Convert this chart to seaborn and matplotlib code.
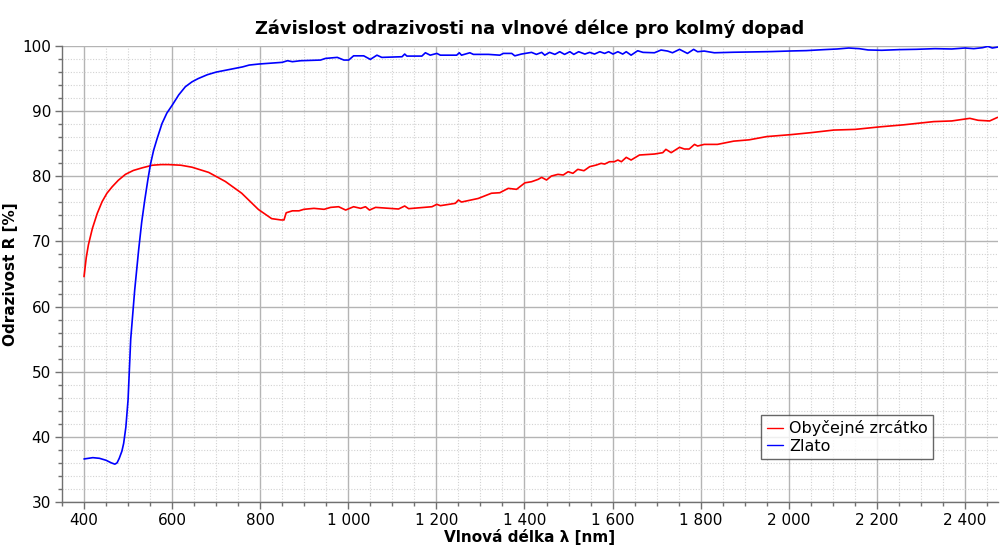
import numpy as np
import pandas as pd
import matplotlib
matplotlib.use("Agg")
import matplotlib.pyplot as plt
from matplotlib.ticker import MultipleLocator, FuncFormatter
import seaborn as sns

# ---- data ----
mirror_wl = [400, 405, 410, 419, 430, 441, 452, 464, 478, 494, 512, 532, 555, 575, 592,
             620, 645, 683, 721, 758, 796, 826, 847, 854, 859, 873, 888, 899, 922, 945,
             960, 978, 994, 1012, 1028, 1039, 1048, 1062, 1114, 1128, 1137, 1190, 1201,
             1209, 1243, 1250, 1257, 1295, 1325, 1344, 1363, 1382, 1401, 1416, 1431, 1439,
             1450, 1461, 1476, 1488, 1499, 1510, 1521, 1535, 1548, 1563, 1574, 1582, 1593,
             1604, 1612, 1620, 1631, 1642, 1661, 1695, 1714, 1721, 1733, 1752, 1763, 1774,
             1786, 1793, 1808, 1838, 1875, 1910, 1950, 2005, 2050, 2102, 2150, 2208, 2260,
             2329, 2370, 2411, 2430, 2456, 2474]
mirror_R = [64.6, 67.5, 69.5, 72.0, 74.3, 76.1, 77.4, 78.4, 79.4, 80.3, 80.9, 81.3, 81.7,
            81.8, 81.8, 81.7, 81.4, 80.6, 79.2, 77.4, 74.9, 73.5, 73.3, 73.3, 74.4, 74.7,
            74.7, 74.93, 75.08, 74.93, 75.23, 75.33, 74.82, 75.33, 75.08, 75.33, 74.82,
            75.23, 74.98, 75.44, 75.03, 75.33, 75.7, 75.49, 75.85, 76.36, 76.05, 76.6, 77.4,
            77.48, 78.15, 78.0, 79.0, 79.17, 79.53, 79.84, 79.43, 80.04, 80.3, 80.2, 80.7,
            80.46, 81.07, 80.86, 81.48, 81.73, 81.99, 81.88, 82.24, 82.24, 82.5, 82.24,
            82.91, 82.5, 83.27, 83.42, 83.63, 84.14, 83.63, 84.45, 84.19, 84.19, 84.9, 84.65,
            84.9, 84.9, 85.4, 85.6, 86.1, 86.4, 86.7, 87.1, 87.2, 87.6, 87.9, 88.4, 88.5,
            88.9, 88.6, 88.5, 89.05]

gold_wl = [400, 410, 420, 435, 450, 462, 470, 475, 480, 486, 490, 495, 500, 506, 515, 524,
           531, 538, 545, 551, 558, 566, 577, 588, 600, 615, 630, 645, 659, 680, 700, 730,
           760, 775, 797, 850, 862, 873, 892, 937, 948, 975, 990, 1001, 1012, 1035, 1050,
           1065, 1076, 1122, 1128, 1133, 1167, 1175, 1186, 1201, 1209, 1246, 1252, 1257,
           1276, 1284, 1318, 1344, 1352, 1371, 1378, 1393, 1416, 1427, 1439, 1446, 1457,
           1469, 1480, 1491, 1503, 1512, 1523, 1537, 1548, 1559, 1571, 1582, 1591, 1601,
           1612, 1623, 1631, 1642, 1657, 1669, 1695, 1710, 1725, 1736, 1752, 1770, 1784,
           1793, 1808, 1831, 1875, 1920, 1960, 2008, 2040, 2080, 2110, 2136, 2160, 2180,
           2211, 2250, 2290, 2332, 2370, 2400, 2420, 2440, 2452, 2462, 2475]
gold_R = [36.6, 36.7, 36.8, 36.7, 36.4, 36.0, 35.8, 36.0, 36.7, 37.8, 39.0, 41.5, 45.7, 55.0,
          62.5, 68.7, 73.0, 76.4, 79.5, 81.9, 84.0, 85.8, 88.1, 89.7, 90.9, 92.5, 93.75, 94.5,
          95.0, 95.6, 96.0, 96.4, 96.8, 97.08, 97.24, 97.5, 97.75, 97.6, 97.75, 97.85, 98.1,
          98.26, 97.85, 97.85, 98.5, 98.5, 97.95, 98.6, 98.26, 98.36, 98.77, 98.46, 98.46,
          98.97, 98.6, 98.87, 98.6, 98.6, 98.97, 98.6, 98.97, 98.72, 98.72, 98.6, 98.87,
          98.87, 98.5, 98.77, 99.03, 98.72, 99.03, 98.6, 99.03, 98.72, 99.13, 98.72, 99.13,
          98.72, 99.13, 98.77, 99.03, 98.77, 99.13, 98.87, 99.13, 98.77, 99.13, 98.77, 99.13,
          98.6, 99.28, 99.03, 98.97, 99.39, 99.23, 98.97, 99.49, 98.87, 99.49, 99.13, 99.23,
          98.97, 99.05, 99.1, 99.15, 99.25, 99.3, 99.45, 99.55, 99.7, 99.6, 99.4, 99.35,
          99.45, 99.5, 99.6, 99.55, 99.7, 99.6, 99.75, 99.95, 99.7, 99.85]

series_names = ["Obyčejné zrcátko", "Zlato"]
series_colors = ["#ff0000", "#0000ff"]

title = "Závislost odrazivosti na vlnové délce pro kolmý dopad"
xlabel = "Vlnová délka λ [nm]"
ylabel = "Odrazivost R [%]"

df = pd.concat([
    pd.DataFrame({"wl": mirror_wl, "R": mirror_R, "serie": series_names[0]}),
    pd.DataFrame({"wl": gold_wl, "R": gold_R, "serie": series_names[1]}),
], ignore_index=True)

# ---- plot ----
sns.set_theme(style="white")
plt.rcParams["font.family"] = ["DejaVu Sans"]
plt.rcParams["text.color"] = "black"
plt.rcParams["axes.labelcolor"] = "black"

fig = plt.figure(figsize=(10, 5.45), dpi=100)
ax = fig.add_axes([0.062, 0.079, 0.936, 0.8365])

sns.lineplot(data=df, x="wl", y="R", hue="serie", palette=dict(zip(series_names, series_colors)),
             sort=False, linewidth=1.2, ax=ax, zorder=3)

ax.set_xlim(350, 2475)
ax.set_ylim(30, 100)

ax.xaxis.set_major_locator(MultipleLocator(200))
ax.xaxis.set_minor_locator(MultipleLocator(50))
ax.yaxis.set_major_locator(MultipleLocator(10))
ax.yaxis.set_minor_locator(MultipleLocator(2))

def thousands(v, pos):
    s = f"{int(round(v)):,}".replace(",", " ")
    return s
ax.xaxis.set_major_formatter(FuncFormatter(thousands))

ax.grid(True, which="major", color="#b4b4b4", linewidth=1.0, linestyle="-", zorder=0)
ax.grid(True, which="minor", color="#d2d2d2", linewidth=0.8, linestyle=(0, (1, 1.5)), zorder=0)
ax.set_axisbelow(True)

for s in ["top", "right"]:
    ax.spines[s].set_visible(False)
for s in ["left", "bottom"]:
    ax.spines[s].set_color("#707070")
    ax.spines[s].set_linewidth(1.0)

ax.tick_params(axis="both", which="major", direction="out", length=5, width=1,
               color="#707070", labelsize=11, labelcolor="#000000", pad=3, bottom=True, left=True)
ax.tick_params(axis="both", which="minor", direction="out", length=3, width=1,
               color="#707070", bottom=True, left=True)

ax.set_title(title, fontsize=13, fontweight="bold", pad=9, color="black")
ax.set_xlabel(xlabel, fontsize=11, fontweight="bold", labelpad=1, color="black")
ax.set_ylabel(ylabel, fontsize=11, fontweight="bold", labelpad=3, color="black")

leg = ax.legend(loc="lower left", bbox_to_anchor=(0.747, 0.094), fontsize=11.5,
                frameon=True, fancybox=False, handlelength=1.0, handletextpad=0.4,
                borderpad=0.35, labelspacing=0.15, borderaxespad=0)
leg.get_frame().set_edgecolor("#404040")
leg.get_frame().set_linewidth(1.0)
for t in leg.get_texts():
    t.set_color("black")
for h in leg.get_lines():
    h.set_linewidth(1.0)

fig.savefig("out.png", dpi=100)
